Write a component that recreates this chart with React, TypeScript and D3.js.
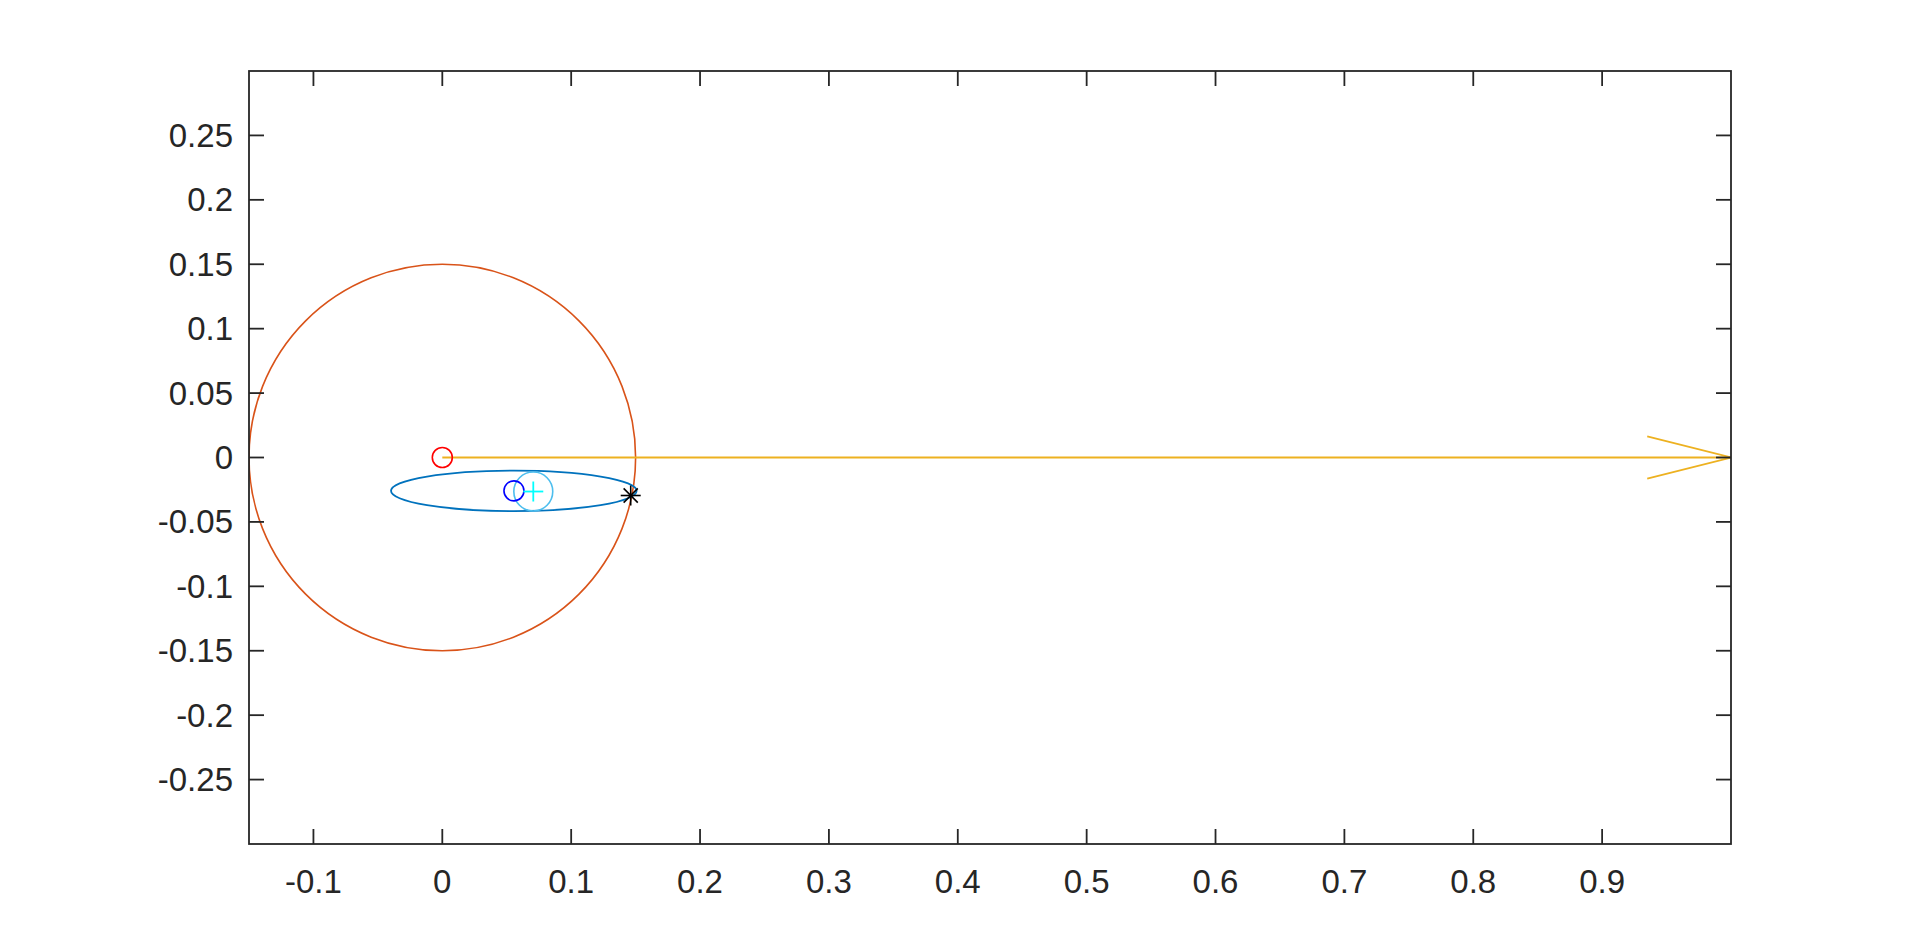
import React from "react";
import * as d3 from "d3";

const xTicks = [-0.1, 0, 0.1, 0.2, 0.3, 0.4, 0.5, 0.6, 0.7, 0.8, 0.9];
const yTicks = [-0.25, -0.2, -0.15, -0.1, -0.05, 0, 0.05, 0.1, 0.15, 0.2, 0.25];
const xDomain = [-0.15, 1.0];
const yDomain = [-0.3, 0.3];

// big circle: [cx, cy, r]
const bigCircle = [0, 0, 0.15];
// ellipse: [cx, cy, rx, ry]
const ellipse = [0.0555, -0.0259, 0.0953, 0.0157];
// small light-blue circle: [cx, cy, r]
const smallCircle = [0.0706, -0.0264, 0.0151];
// arrow: start, end, head points
const arrowLine = [[0, 0], [1, 0]];
const arrowHead = [[0.935, 0.0164], [1, 0], [0.935, -0.0164]];
// markers
const redMarker = [0, 0];
const blueMarker = [0.0556, -0.0259];
const plusMarker = [0.0706, -0.0264];
const starMarker = [0.1462, -0.0295];

const fmt = (t: number) => String(t);

export default function App() {
  const W = 1914, H = 949;
  const L = 249, R = 1731, T = 71, B = 844;
  const x = d3.scaleLinear().domain(xDomain).range([L, R]);
  const y = d3.scaleLinear().domain(yDomain).range([B, T]);
  const tickLen = 15;
  const txt = "#262626";
  const font = "Arial, 'Liberation Sans', Helvetica, sans-serif";
  const line = d3.line<number[]>().x(d => x(d[0])).y(d => y(d[1]));
  const kx = x(1) - x(0);
  const ky = y(0) - y(1);

  const ms = 10;
  const [sx, sy] = [x(starMarker[0]), y(starMarker[1])];
  const d45 = ms * Math.SQRT1_2;

  return (
    <svg width={W} height={H} style={{ position: "absolute", left: 0, top: 0, background: "#fff" }}>
      <rect x={0} y={0} width={W} height={H} fill="#fff" />
      <defs>
        <clipPath id="plotclip">
          <rect x={L} y={T} width={R - L} height={B - T} />
        </clipPath>
      </defs>
      <g clipPath="url(#plotclip)" fill="none">
        <ellipse cx={x(bigCircle[0])} cy={y(bigCircle[1])} rx={bigCircle[2] * kx} ry={bigCircle[2] * ky}
          stroke="#D95319" strokeWidth={1.6} />
        <path d={line(arrowLine as number[][]) || ""} stroke="#EDB120" strokeWidth={1.8} />
        <path d={line(arrowHead as number[][]) || ""} stroke="#EDB120" strokeWidth={1.8} />
        <ellipse cx={x(ellipse[0])} cy={y(ellipse[1])} rx={ellipse[2] * kx} ry={ellipse[3] * ky}
          stroke="#0072BD" strokeWidth={1.8} />
        <ellipse cx={x(smallCircle[0])} cy={y(smallCircle[1])} rx={smallCircle[2] * kx} ry={smallCircle[2] * ky}
          stroke="#4DBEEE" strokeWidth={1.6} />
        <circle cx={x(redMarker[0])} cy={y(redMarker[1])} r={ms} stroke="#FF0000" strokeWidth={1.6} />
        <circle cx={x(blueMarker[0])} cy={y(blueMarker[1])} r={ms} stroke="#0000FF" strokeWidth={1.6} />
        <g stroke="#00FFFF" strokeWidth={1.8}>
          <line x1={x(plusMarker[0]) - ms} x2={x(plusMarker[0]) + ms} y1={y(plusMarker[1])} y2={y(plusMarker[1])} />
          <line x1={x(plusMarker[0])} x2={x(plusMarker[0])} y1={y(plusMarker[1]) - ms} y2={y(plusMarker[1]) + ms} />
        </g>
        <g stroke="#000" strokeWidth={1.6}>
          <line x1={sx - ms} x2={sx + ms} y1={sy} y2={sy} />
          <line x1={sx} x2={sx} y1={sy - ms} y2={sy + ms} />
          <line x1={sx - d45} x2={sx + d45} y1={sy - d45} y2={sy + d45} />
          <line x1={sx - d45} x2={sx + d45} y1={sy + d45} y2={sy - d45} />
        </g>
      </g>
      <g stroke={txt} strokeWidth={1.8} fill="none">
        {xTicks.map(t => (
          <g key={"xt" + t}>
            <line x1={x(t)} x2={x(t)} y1={B} y2={B - tickLen} />
            <line x1={x(t)} x2={x(t)} y1={T} y2={T + tickLen} />
          </g>
        ))}
        {yTicks.map(t => (
          <g key={"yt" + t}>
            <line x1={L} x2={L + tickLen} y1={y(t)} y2={y(t)} />
            <line x1={R} x2={R - tickLen} y1={y(t)} y2={y(t)} />
          </g>
        ))}
        <rect x={L} y={T} width={R - L} height={B - T} />
      </g>
      <g fill={txt} fontFamily={font} fontSize={33}>
        {xTicks.map(t => (
          <text key={"xl" + t} x={x(t)} y={893} textAnchor="middle">{fmt(t)}</text>
        ))}
        {yTicks.map(t => (
          <text key={"yl" + t} x={L - 16} y={y(t)} textAnchor="end" dominantBaseline="central">{fmt(t)}</text>
        ))}
      </g>
    </svg>
  );
}
